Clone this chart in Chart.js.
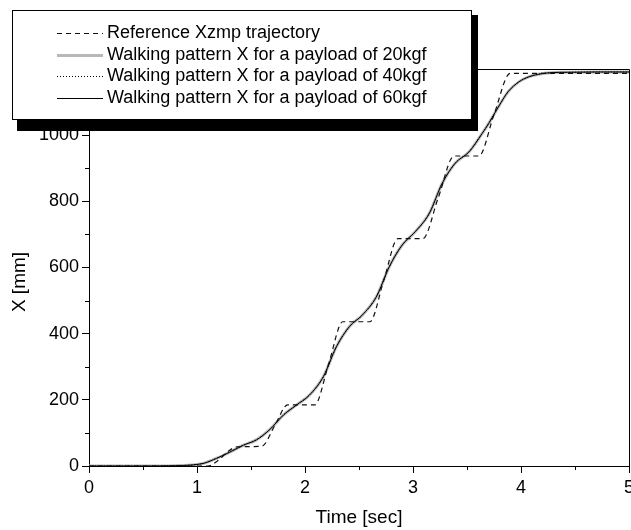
<!DOCTYPE html>
<html>
<head>
<meta charset="utf-8" />
<script src="https://cdn.jsdelivr.net/npm/chart.js@4"></script>
<style>
  html, body { margin: 0; padding: 0; background: #fff; }
  #wrap { width: 631px; height: 530px; }
</style>
</head>
<body>
<div id="wrap"><canvas id="chartX" width="631" height="530"></canvas></div>
<script>
// Reference ZMP (dashed)
const refTime = [0, 1.1, 1.2, 1.28, 1.37, 1.6, 1.72, 1.84, 2.09, 2.22, 2.35, 2.6, 2.73, 2.86, 3.09, 3.235, 3.38, 3.61, 3.75, 3.9, 5];
const refX = [0, 0, 18, 42, 58, 60, 122, 185, 185, 310, 436, 436, 562, 687, 687, 812, 937, 937, 1062, 1187, 1187];

// Walking patterns (they lie on top of each other)
const patTime = [0, 0.5, 0.8, 0.95, 1.06, 1.18, 1.31, 1.43, 1.55, 1.67, 1.8, 1.92, 2.04, 2.17, 2.29, 2.41, 2.53, 2.66, 2.78, 2.9, 3.02, 3.15, 3.27, 3.39, 3.52, 3.64, 3.7, 3.79, 3.88, 3.98, 4.07, 4.16, 4.28, 4.43, 4.7, 5];
const pat20 = [0, 0, 1, 3, 8, 23, 43, 63, 79, 109, 154, 184, 214, 270, 360, 421, 456, 511, 602, 668, 708, 763, 854, 915, 950, 1005, 1035, 1085, 1131, 1161, 1176, 1184, 1189, 1190, 1191, 1191];
const pat40 = [0, 0, 1, 3, 8, 23, 43, 63, 79, 109, 154, 184, 214, 270, 360, 421, 456, 511, 602, 668, 708, 763, 854, 915, 950, 1005, 1035, 1085, 1131, 1161, 1176, 1184, 1189, 1190, 1191, 1191];
const pat60 = [0, 0, 1, 3, 8, 23, 43, 63, 79, 109, 154, 184, 214, 270, 360, 421, 456, 511, 602, 668, 708, 763, 854, 915, 950, 1005, 1035, 1085, 1131, 1161, 1176, 1184, 1189, 1190, 1191, 1191];

const legendLabels = [
  "Reference Xzmp trajectory",
  "Walking pattern X for a payload of 20kgf",
  "Walking pattern X for a payload of 40kgf",
  "Walking pattern X for a payload of 60kgf",
];

const FONT = "'Liberation Sans', Arial, sans-serif";
const toPoints = (ts, vs) => ts.map((t, i) => ({ x: t, y: vs[i] }));

// order: lower is drawn on top
const styles = [
  { color: "#111", width: 1.2, dash: [5, 4], order: 0 },
  { color: "#b8b8b8", width: 3, dash: [], order: 3 },
  { color: "#000", width: 1, dash: [1, 2], order: 2 },
  { color: "#000", width: 1, dash: [], order: 1 },
];

// frame, minor ticks, titles and the boxed legend
const extras = {
  id: "extras",
  afterDraw(chart) {
    const { ctx, chartArea: a, scales } = chart;
    ctx.save();
    ctx.strokeStyle = "#000";
    ctx.lineWidth = 1;
    ctx.beginPath();
    ctx.moveTo(a.left, a.top + 0.5);
    ctx.lineTo(a.right + 0.5, a.top + 0.5);
    ctx.lineTo(a.right + 0.5, a.bottom);
    ctx.stroke();

    // minor ticks
    ctx.beginPath();
    for (let v = 100; v < 1200; v += 200) {
      const y = Math.round(scales.y.getPixelForValue(v)) + 0.5;
      ctx.moveTo(a.left - 4, y);
      ctx.lineTo(a.left, y);
    }
    for (let t = 0.5; t < 5; t += 1) {
      const x = Math.round(scales.x.getPixelForValue(t)) + 0.5;
      ctx.moveTo(x, a.bottom);
      ctx.lineTo(x, a.bottom + 4);
    }
    ctx.stroke();

    // axis titles
    ctx.fillStyle = "#000";
    ctx.font = "19px " + FONT;
    ctx.textAlign = "center";
    ctx.textBaseline = "middle";
    ctx.fillText("Time [sec]", (a.left + a.right) / 2, 518);
    ctx.translate(20, 282);
    ctx.rotate(-Math.PI / 2);
    ctx.fillText("X [mm]", 0, 0);
    ctx.restore();

    // legend box with shadow
    ctx.save();
    const bx = 12, by = 10, bw = 459, bh = 109;
    ctx.fillStyle = "#000";
    ctx.fillRect(bx + 5, by + 5, bw + 2, bh + 7);
    ctx.fillStyle = "#fff";
    ctx.fillRect(bx, by, bw, bh);
    ctx.strokeStyle = "#000";
    ctx.lineWidth = 1;
    ctx.strokeRect(bx + 0.5, by + 0.5, bw, bh);
    ctx.font = "18px " + FONT;
    ctx.textAlign = "left";
    ctx.textBaseline = "middle";
    legendLabels.forEach((label, i) => {
      const y = 33 + i * 21.7;
      const s = styles[i];
      ctx.strokeStyle = s.color;
      ctx.lineWidth = s.width;
      ctx.setLineDash(s.dash);
      ctx.beginPath();
      ctx.moveTo(57, Math.round(y) + 0.5);
      ctx.lineTo(103, Math.round(y) + 0.5);
      ctx.stroke();
      ctx.setLineDash([]);
      ctx.fillStyle = "#000";
      ctx.fillText(label, 107, y);
    });
    ctx.restore();
  },
};

const series = [
  toPoints(refTime, refX),
  toPoints(patTime, pat20),
  toPoints(patTime, pat40),
  toPoints(patTime, pat60),
];

new Chart(document.getElementById("chartX"), {
  type: "line",
  data: {
    datasets: series.map((pts, i) => ({
      label: legendLabels[i],
      data: pts,
      order: styles[i].order,
      borderColor: styles[i].color,
      borderWidth: styles[i].width,
      borderDash: styles[i].dash,
      pointRadius: 0,
      fill: false,
      cubicInterpolationMode: "monotone",
    })),
  },
  options: {
    responsive: false,
    animation: false,
    layout: { padding: { top: 69, right: 2, left: 0, bottom: 0 } },
    plugins: { legend: { display: false }, tooltip: { enabled: false } },
    scales: {
      x: {
        type: "linear",
        min: 0,
        max: 5,
        ticks: { stepSize: 1, color: "#000", padding: 4, maxRotation: 0, font: { family: FONT, size: 18 }, callback: (v) => String(v) },
        grid: { drawOnChartArea: false, tickLength: 7, color: "#000" },
        border: { color: "#000", width: 1 },
        afterFit: (s) => {
          s.height = 64;
          s.paddingLeft = 0;
          s.paddingRight = 0;
        },
      },
      y: {
        min: 0,
        max: 1200,
        ticks: { stepSize: 200, color: "#000", padding: 3, font: { family: FONT, size: 18 }, callback: (v) => String(v) },
        grid: { drawOnChartArea: false, tickLength: 7, color: "#000" },
        border: { color: "#000", width: 1 },
        afterFit: (s) => {
          s.width = 89;
          s.paddingTop = 0;
          s.paddingBottom = 0;
        },
      },
    },
  },
  plugins: [extras],
});
</script>
</body>
</html>
